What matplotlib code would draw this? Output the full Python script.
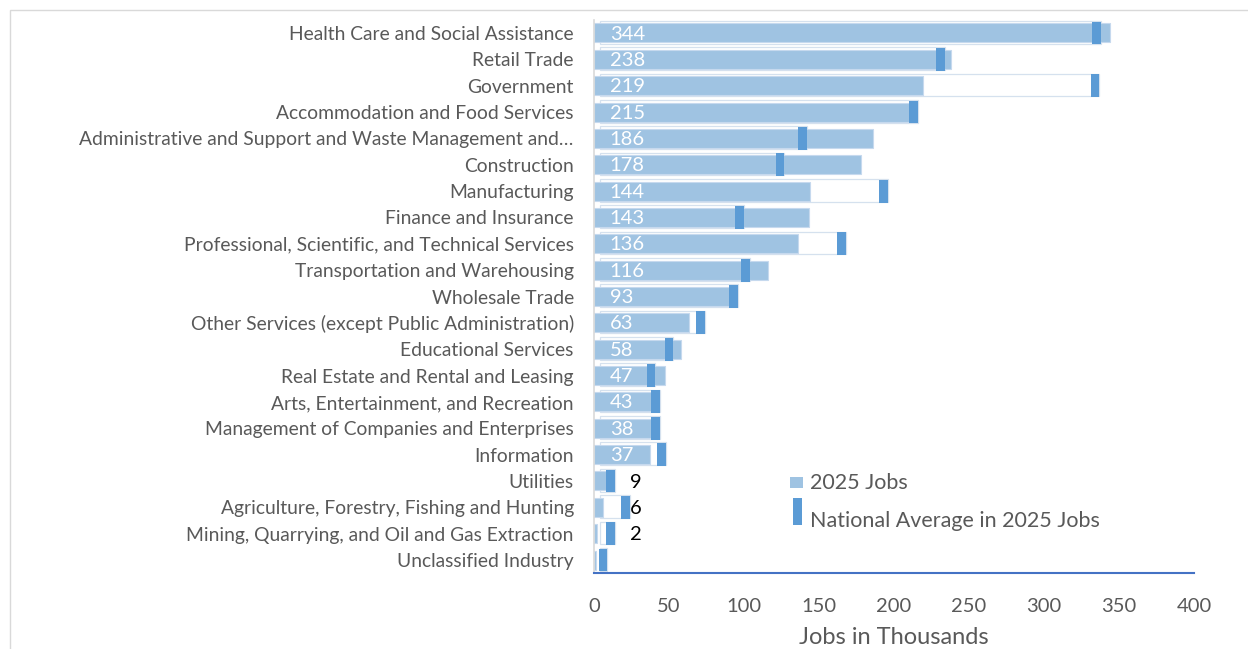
import matplotlib
matplotlib.use("Agg")
import matplotlib.pyplot as plt
from matplotlib.patches import Rectangle

plt.rcParams['font.family'] = ['Lato', 'DejaVu Sans']

categories = [
    "Health Care and Social Assistance",
    "Retail Trade",
    "Government",
    "Accommodation and Food Services",
    "Administrative and Support and Waste Management and\u2026",
    "Construction",
    "Manufacturing",
    "Finance and Insurance",
    "Professional, Scientific, and Technical Services",
    "Transportation and Warehousing",
    "Wholesale Trade",
    "Other Services (except Public Administration)",
    "Educational Services",
    "Real Estate and Rental and Leasing",
    "Arts, Entertainment, and Recreation",
    "Management of Companies and Enterprises",
    "Information",
    "Utilities",
    "Agriculture, Forestry, Fishing and Hunting",
    "Mining, Quarrying, and Oil and Gas Extraction",
    "Unclassified Industry",
]
jobs_2025 = [344, 238, 219, 215, 186, 178, 144, 143, 136, 116, 93, 63, 58, 47, 43, 38, 37, 9, 6, 2, 1]
national_avg = [335, 231, 334, 213, 139, 124, 193, 97, 165, 101, 93, 71, 50, 38, 41, 41, 45, 11, 21, 11, 6]
value_labels = ["344", "238", "219", "215", "186", "178", "144", "143", "136", "116", "93",
                "63", "58", "47", "43", "38", "37", "9", "6", "2", ""]
xticks = [0, 50, 100, 150, 200, 250, 300, 350, 400]
legend_labels = ["2025 Jobs", "National Average in 2025 Jobs"]

BAR = '#9fc3e2'
MARK = '#5b9bd5'
GRAY = '#595959'
W, H = 1248, 649

fig = plt.figure(figsize=(12.48, 6.49), dpi=100)
ax = fig.add_axes([594/W, 1-573.2/H, 600/W, (573.2-19.8)/H])


def fx(px):
    return px / W


def fy(py):
    return 1 - py / H


# outer chart border
fig.patches.append(Rectangle((fx(10), -0.1), 1.2, fy(10) + 0.1, transform=fig.transFigure,
                             fill=False, edgecolor='#d9d9d9', lw=1.0, zorder=0))

y = list(range(len(categories)))
mw = 2.7
for i in y:
    ax.barh(i - 0.03, national_avg[i] + mw - 4, left=4, height=0.86, color='white',
            edgecolor='#d5e1ee', lw=0.9, zorder=1)
ax.barh(y, jobs_2025, height=0.72, color=BAR, edgecolor='#c6d9ee', lw=0.8, zorder=2)
for i in y:
    ax.barh(i, 2 * mw, left=national_avg[i] - mw, height=0.87, color=MARK, zorder=3)

for i in y:
    lab = value_labels[i]
    if not lab:
        continue
    if jobs_2025[i] >= 20:
        ax.text(10.5, i + 0.04, lab, color='white', fontsize=14.5, va='center', ha='left', zorder=4)
    else:
        ax.text(28, i + 0.04, lab, color='black', fontsize=14.5, va='center', ha='center', zorder=4)

ax.set_ylim(len(categories) - 0.5, -0.5)
ax.set_xlim(0, 400)
ax.set_yticks(y)
ax.set_yticklabels(categories, fontsize=13.9, color=GRAY)
ax.set_xticks(xticks)
ax.set_xticklabels([str(t) for t in xticks], fontsize=14.5, color=GRAY)
ax.tick_params(axis='both', length=0)
ax.tick_params(axis='y', pad=14.5)
ax.tick_params(axis='x', pad=17.5)
for s in ['top', 'right']:
    ax.spines[s].set_visible(False)
ax.spines['left'].set_color('#d9d9d9')
ax.spines['left'].set_linewidth(1.2)
ax.spines['bottom'].set_color('#4472c4')
ax.spines['bottom'].set_linewidth(1.5)
ax.set_xlabel("Jobs in Thousands", fontsize=17, color=GRAY)
ax.xaxis.label.set_va('center')
ax.xaxis.set_label_coords(0.5, (573.2 - 637) / 553.4)

# legend drawn manually to mimic the original arrangement
fig.patches.append(Rectangle((fx(790), fy(488)), fx(13), 11 / H, transform=fig.transFigure,
                             facecolor=BAR, edgecolor='none'))
fig.patches.append(Rectangle((fx(793), fy(525)), fx(9), 27 / H, transform=fig.transFigure,
                             facecolor=MARK, edgecolor='none'))
fig.text(fx(810), fy(483), legend_labels[0], fontsize=15.5, color=GRAY, va='center', ha='left')
fig.text(fx(810), fy(521), legend_labels[1], fontsize=15.5, color=GRAY, va='center', ha='left')

fig.savefig("out.png", dpi=100)
